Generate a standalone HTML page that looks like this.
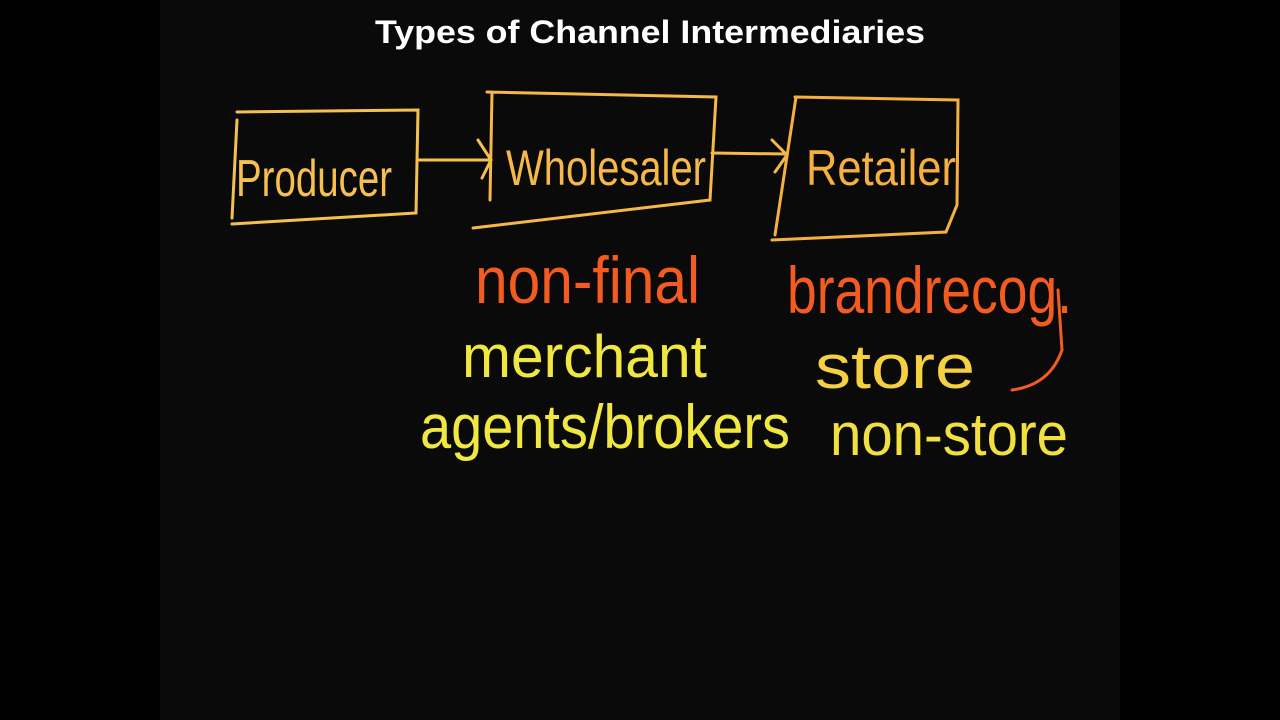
<!DOCTYPE html>
<html><head><meta charset="utf-8"><style>
html,body{margin:0;padding:0;background:#000;width:1280px;height:720px;overflow:hidden}
</style></head><body>
<svg width="1280" height="720" xmlns="http://www.w3.org/2000/svg">
<rect x="0" y="0" width="1280" height="720" fill="#000"/>
<rect x="160" y="0" width="960" height="720" fill="#0a0a0a"/>
<text x="375" y="43" font-family="Liberation Sans, sans-serif" font-weight="bold" font-size="32" fill="#fff" textLength="550" lengthAdjust="spacingAndGlyphs">Types of Channel Intermediaries</text>
<g fill="none" stroke-width="3" stroke-linecap="round">
<path d="M237 112 L418 110 L416 213 L232 224 M237 120 L232 218" stroke="#f6c050"/>
<path d="M418 160 L490 160 M478 140 L491 160 L482 178" stroke="#f6c050"/>
<path d="M487 92 L716 97 L710 200 L473 228 M492 92 L490 200" stroke="#f6b848"/>
<path d="M712 153 L786 154 M772 140 L787 155 L775 172" stroke="#f6b848"/>
<path d="M795 97 L958 100 L957 205 L946 232 L772 240 M796 97 L775 235" stroke="#f5b040"/>
<path d="M1058 290 L1062 350 Q1050 385 1012 390" stroke="#f35b20"/>
</g>
<g font-family="Liberation Sans Narrow, Liberation Sans, sans-serif">
<text x="236" y="196" font-size="52" fill="#f6c050" textLength="156" lengthAdjust="spacingAndGlyphs">Producer</text>
<text x="506" y="185" font-size="50" fill="#f6b848" textLength="200" lengthAdjust="spacingAndGlyphs">Wholesaler</text>
<text x="806" y="185" font-size="50" fill="#f5b040" textLength="150" lengthAdjust="spacingAndGlyphs">Retailer</text>
<text x="475" y="303" font-size="66" fill="#f35b20" textLength="225" lengthAdjust="spacingAndGlyphs">non-final</text>
<text x="787" y="313" font-size="66" fill="#f35b20" textLength="285" lengthAdjust="spacingAndGlyphs">brandrecog.</text>
<text x="462" y="377" font-size="60" fill="#f0e840" textLength="245" lengthAdjust="spacingAndGlyphs">merchant</text>
<text x="815" y="388" font-size="62" fill="#f5d040" textLength="160" lengthAdjust="spacingAndGlyphs">store</text>
<text x="420" y="448" font-size="62" fill="#f0e840" textLength="370" lengthAdjust="spacingAndGlyphs">agents/brokers</text>
<text x="830" y="455" font-size="60" fill="#f2e040" textLength="238" lengthAdjust="spacingAndGlyphs">non-store</text>
</g>
</svg>
</body></html>
